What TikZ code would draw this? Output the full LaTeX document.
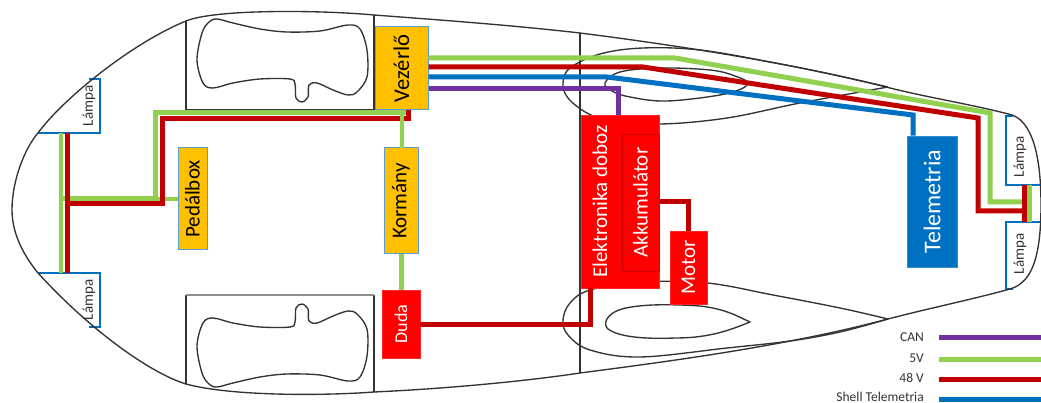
\documentclass[tikz,border=0pt]{standalone}
\usepackage{fontspec}
\usepackage{graphicx}
\setmainfont{Carlito}
\definecolor{oran}{HTML}{FFC000}
\definecolor{bordblue}{HTML}{5B9BD5}
\definecolor{wgreen}{HTML}{92D050}
\definecolor{wred}{HTML}{C00000}
\definecolor{wblue}{HTML}{0070C0}
\definecolor{wpurp}{HTML}{7030A0}
\definecolor{hull}{HTML}{333333}
\tikzset{
  hl/.style={draw=hull,line width=1.35pt,line join=round},
  lampb/.style={draw=wblue,line width=2pt,fill=white,line join=miter},
  lamptext/.style={inner sep=0pt,font=\fontsize{15}{15}\selectfont,text=black!80},
  obox/.style={draw=bordblue,line width=1pt,fill=oran,inner sep=0pt,font=\fontsize{21}{21}\selectfont},
  rbox/.style={draw=red!85!white,line width=.5pt,fill=red,inner sep=0pt,text=white,font=\fontsize{21}{21}\selectfont},
  wire/.style={line width=5pt,line join=miter},
  g/.style={wire,draw=wgreen},
  r/.style={wire,draw=wred},
  b/.style={wire,draw=wblue},
  p/.style={wire,draw=wpurp},
  legt/.style={anchor=east,inner sep=0pt,font=\fontsize{13.5}{13.5}\selectfont,text=black!80},
}
\begin{document}
\begin{tikzpicture}[x=1pt,y=-1pt]
\useasboundingbox (0,0) rectangle (1041,403);
\fill[white] (0,0) rectangle (1041,403);
% lamps
\path[lampb] (89,79) -- (100,79) -- (100,133) -- (38,133);
\path[lampb] (89,327) -- (100,327) -- (100,273) -- (38,273);
\path[lampb] (1013,116) -- (1006,116) -- (1006,185) -- (1041,185);
\path[lampb] (1041,222) -- (1006,222) -- (1006,289) -- (1013,289);
% hull
\begin{scope}
\clip (0,0) rectangle (1041,403);
\draw[hl] (38,133) .. controls (62,100) and (130,44) .. (186,21)
  .. controls (215,9) and (320,10) .. (374,15)
  .. controls (440,20) and (510,25) .. (580,33)
  .. controls (690,47) and (800,65) .. (890,88)
  .. controls (930,98) and (975,105) .. (1012,115)
  .. controls (1026,120) and (1041,140) .. (1041,205)
  .. controls (1041,262) and (1030,283) .. (1010,289)
  .. controls (970,300) and (930,308) .. (888,319)
  .. controls (790,345) and (680,360) .. (580,373)
  .. controls (520,382) and (440,389) .. (374,392)
  .. controls (320,396) and (230,396) .. (186,384)
  .. controls (150,373) and (90,330) .. (38,273)
  .. controls (25,257) and (12,235) .. (12,210)
  .. controls (12,180) and (25,148) .. (38,133) -- cycle;
\end{scope}
% seats
\draw[hl] (186,21) -- (186,110) -- (374,110) -- (374,15);
\draw[hl] (374,392) -- (374,295);
\draw[hl] (186,384) -- (186,295);
\draw[hl,draw=hull!55] (186,295) -- (374,295);
\draw[hl] plot[smooth cycle,tension=.55] coordinates {(217,19) (233,23) (260,29) (287,32) (320,31) (348,25) (360,29) (367,50) (367,77) (357,92) (348,95) (333,90) (317,83) (309,85) (308,97) (302,102) (296,98) (295,84) (290,79) (260,79) (233,83) (213,88) (203,83) (197,60) (202,33) (209,22)};
\draw[hl] plot[smooth cycle,tension=.55] coordinates {(217,387) (233,383) (260,377) (287,374) (320,375) (348,381) (360,377) (367,356) (367,329) (357,314) (348,311) (333,316) (317,323) (309,321) (308,309) (302,304) (296,308) (295,322) (290,327) (260,327) (233,323) (213,318) (203,323) (197,346) (202,373) (209,384)};
% divider
\draw[hl] (580,33) -- (580,373);
% fairings
\draw[hl] plot[smooth,tension=.6] coordinates {(888,87) (800,103) (727,118) (660,124) (610,120) (587,113) (568,98) (563,83) (570,68) (600,54) (643,48) (700,50) (770,62) (830,74) (888,87)};
\draw[hl] plot[smooth cycle,tension=.6] coordinates {(605,83) (620,72) (660,68) (710,70) (735,76) (748,84) (725,94) (667,101) (630,97) (612,91)};
\draw[hl] plot[smooth,tension=.6] coordinates {(888,319) (840,332) (790,341) (727,348) (640,357) (590,350) (568,335) (563,320) (570,303) (590,290) (640,282) (707,283) (773,295) (840,308) (888,319)};
\draw[hl] (750,322) .. controls (735,315) and (725,309) .. (700,306)
  .. controls (670,304) and (640,304) .. (622,309)
  .. controls (605,314) and (603,325) .. (608,329)
  .. controls (620,338) and (650,339) .. (675,338)
  .. controls (710,338) and (730,330) .. (750,322) -- cycle;
% nodes
\node[obox,minimum width=53pt,minimum height=83pt,font=\fontsize{22.5}{22.5}\selectfont] (vez) at (401.5,68.5) {\rotatebox{90}{Vezérlő}};
\node[obox,minimum width=29pt,minimum height=102pt] (ped) at (192.5,199) {\rotatebox{90}{Pedálbox}};
\node[obox,minimum width=34pt,minimum height=106pt] (kor) at (401,201) {\rotatebox{90}{Kormány}};
\node[rbox,minimum width=38pt,minimum height=68pt,font=\fontsize{18}{18}\selectfont] (dud) at (401,324) {\rotatebox{90}{Duda}};
\node[rbox,minimum width=78pt,minimum height=173pt,anchor=center] (ele) at (620,201.5) {};
\node[text=white,font=\fontsize{21}{21}\selectfont,inner sep=0pt] (elet) at (600,201.5) {\rotatebox{90}{Elektronika doboz}};
\node[draw=wred!70!red,line width=.5pt,fill=red,inner sep=0pt,text=white,font=\fontsize{21}{21}\selectfont,minimum width=37pt,minimum height=137pt] (akk) at (640.5,202.5) {\rotatebox{90}{Akkumulátor}};
\node[rbox,minimum width=37pt,minimum height=73pt] (mot) at (688.5,267.5) {\rotatebox{90}{Motor}};
\node[draw=wblue!80!white,line width=.5pt,fill=wblue,inner sep=0pt,text=white,font=\fontsize{24}{24}\selectfont,minimum width=50pt,minimum height=131pt] (tel) at (932,201.5) {\rotatebox{90}{Telemetria}};
\node[lamptext] (la1) at (89,106) {\rotatebox{90}{Lámpa}};
\node[lamptext] (la2) at (89,300) {\rotatebox{90}{Lámpa}};
\node[lamptext] (la3) at (1020,157) {\rotatebox{90}{Lámpa}};
\node[lamptext] (la4) at (1020,254) {\rotatebox{90}{Lámpa}};
% wire bend and end coordinates
\coordinate (g1) at (675,58); \coordinate (g2) at (990,113); \coordinate (g3) at (990,202); \coordinate (g4) at (1024,202);
\coordinate (r1) at (643,67); \coordinate (r2) at (978,118); \coordinate (r3) at (978,211); \coordinate (r4) at (1024,211);
\coordinate (b1) at (607,77); \coordinate (b2) at (913,115);
\coordinate (p1) at (618,89);
\coordinate (lg1) at (61,133); \coordinate (lg2) at (61,273);
\coordinate (lr1) at (67,133); \coordinate (lr2) at (67,273);
\coordinate (lg3) at (155,199); \coordinate (lg4) at (155,113); \coordinate (lg5) at (404,113);
\coordinate (lr3) at (67,204); \coordinate (lr4) at (162,204); \coordinate (lr5) at (162,119); \coordinate (lr6) at (408,119);
\coordinate (rg1) at (1029,185); \coordinate (rg2) at (1029,222);
\coordinate (rr1) at (1024,185); \coordinate (rr2) at (1024,222);
\coordinate (d1) at (590,324);
\coordinate (m1) at (688,202);
\coordinate (c1) at (402,110); \coordinate (c2) at (402,148);
% wires
\draw[g] (vez.east |- g1) -- (g1) -- (g2) -- (g3) -- (g4);
\draw[r] (vez.east |- r1) -- (r1) -- (r2) -- (r3) -- (r4);
\draw[b] (vez.east |- b1) -- (b1) -- (b2) -- (tel.north -| b2);
\draw[p] (vez.east |- p1) -- (p1) -- (ele.north -| p1);
\draw[g,line width=4pt] (lg1) -- (lg2);
\draw[g] (lg1 |- lg3) -- (lg3) -- (lg4) -- (lg5) -- (vez.south -| lg5);
\draw[g,line width=4pt] (lg3) -- (ped.west |- lg3);
\draw[r] (lr1) -- (lr2);
\draw[r] (lr3) -- (lr4) -- (lr5) -- (lr6) -- (vez.south -| lr6);
\draw[g,line width=4pt] (c1) -- (c2);
\draw[g] (kor.south) -- (dud.north -| kor.south);
\draw[g] (rg1) -- (rg2);
\draw[r] (rr1) -- (rr2);
\draw[r] (dud.east |- d1) -- (d1) -- (ele.south -| d1);
\draw[r] (ele.east |- m1) -- (m1) -- (mot.north -| m1);
% legend
\node[legt] (lc) at (924,337) {CAN};
\node[legt] (l5) at (924,358) {5V};
\node[legt] (l4) at (924,378) {48 V};
\node[legt] (ls) at (924,396.5) {Shell Telemetria};
\coordinate (e1) at (939,337); \coordinate (e2) at (1041,337);
\coordinate (e3) at (939,359); \coordinate (e4) at (1041,359);
\coordinate (e5) at (939,379); \coordinate (e6) at (1041,379);
\coordinate (e7) at (939,399); \coordinate (e8) at (1041,399);
\draw[p] (e1) -- (e2);
\draw[g] (e3) -- (e4);
\draw[r] (e5) -- (e6);
\draw[b] (e7) -- (e8);
\end{tikzpicture}
\end{document}
